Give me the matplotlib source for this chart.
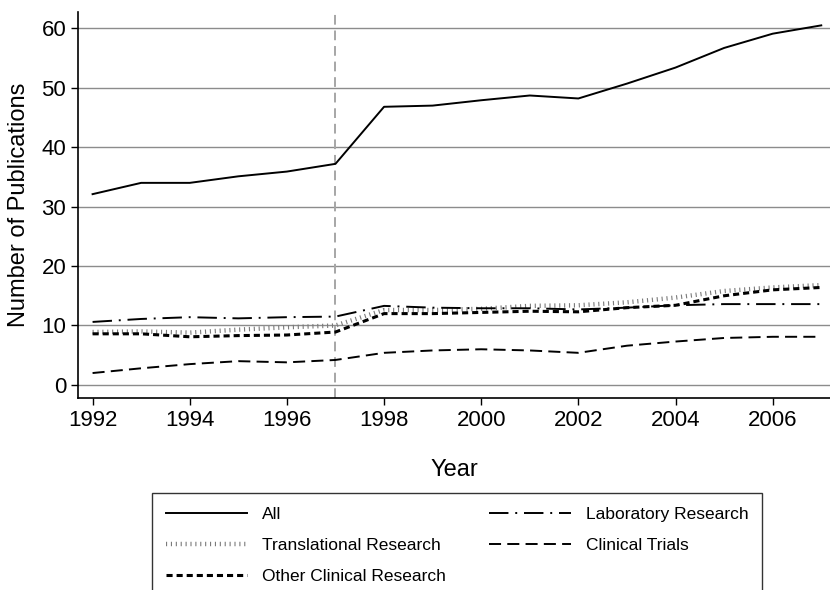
import matplotlib
matplotlib.use('agg')
import matplotlib.pyplot as plt

plt.rcParams['font.family'] = ['Liberation Sans', 'DejaVu Sans']

years = list(range(1992, 2008))
all_pubs = [32.1, 34.0, 34.0, 35.1, 35.9, 37.2, 46.8, 47.0, 47.9, 48.7,
            48.2, 50.7, 53.4, 56.7, 59.1, 60.5]
translational = [8.9, 9.0, 8.8, 9.3, 9.7, 10.0, 12.6, 12.6, 12.8, 13.3,
                 13.4, 13.9, 14.7, 15.8, 16.4, 16.8]
other_clinical = [8.6, 8.6, 8.1, 8.3, 8.4, 8.9, 12.0, 12.0, 12.2, 12.4,
                  12.3, 13.0, 13.4, 15.0, 16.0, 16.4]
laboratory = [10.6, 11.1, 11.4, 11.2, 11.4, 11.5, 13.3, 13.0, 12.9, 12.9,
              12.7, 13.0, 13.4, 13.6, 13.6, 13.6]
clinical_trials = [2.0, 2.8, 3.5, 4.0, 3.8, 4.2, 5.4, 5.8, 6.0, 5.8,
                   5.4, 6.6, 7.3, 7.9, 8.1, 8.1]
policy_year = 1997

fig = plt.figure(figsize=(8.3, 5.9), dpi=100)
ax = fig.add_axes([78/830, 1 - 398/590, 752/830, 386/590])

ax.yaxis.grid(True, color='#8c8c8c', linewidth=1.0)
ax.set_axisbelow(True)
ax.axvline(policy_year, color='#a6a6a6', linewidth=1.4, linestyle=(0, (5, 3)))

l_all, = ax.plot(years, all_pubs, color='black', linewidth=1.4, label='All')
l_tr, = ax.plot(years, translational, color='#7a7a7a', linewidth=3.2,
                linestyle=(0, (0.25, 0.85)), label='Translational Research')
l_oc, = ax.plot(years, other_clinical, color='black', linewidth=2.2,
                linestyle=(0, (2.0, 1.3)), label='Other Clinical Research')
l_lab, = ax.plot(years, laboratory, color='black', linewidth=1.4,
                 linestyle=(0, (10, 3.5, 1, 3.5)), label='Laboratory Research')
l_ct, = ax.plot(years, clinical_trials, color='black', linewidth=1.4,
                linestyle=(0, (6.2, 3.2)), label='Clinical Trials')

ax.set_xlim(1991.7, 2007.18)
ax.set_ylim(-2.2, 62.75)
ax.set_xticks(range(1992, 2007, 2))
ax.set_yticks(range(0, 61, 10))
ax.tick_params(labelsize=16, direction='out', length=5, width=1, color='black')
for s in ['top', 'right']:
    ax.spines[s].set_visible(False)
for s in ['left', 'bottom']:
    ax.spines[s].set_linewidth(1.2)
ax.set_xlabel('Year', fontsize=17, labelpad=20)
ax.set_ylabel('Number of Publications', fontsize=17, labelpad=8)

# legend box runs off the bottom edge of the figure
leg = fig.legend(handles=[l_all, l_tr, l_oc, l_lab, l_ct], ncol=2,
                 loc='upper left', mode='expand',
                 bbox_to_anchor=(152/830, 1 - 493/590, 610/830, 0.0),
                 fontsize=12.5, handlelength=4.7, handletextpad=0.85,
                 borderpad=0.78, labelspacing=0.93, columnspacing=2.0,
                 borderaxespad=0.0,
                 frameon=True, fancybox=False, edgecolor='black')
leg.get_frame().set_linewidth(1.0)

fig.savefig('out.png', dpi=100)
